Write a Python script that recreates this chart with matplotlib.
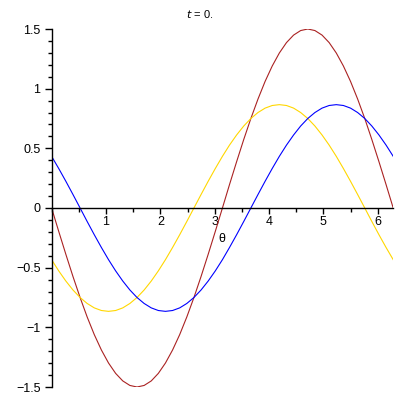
import matplotlib; matplotlib.use("Agg")
import matplotlib.pyplot as plt
from matplotlib.ticker import MultipleLocator

theta = [0, 0.131, 0.262, 0.393, 0.524, 0.654, 0.785, 0.916, 1.047, 1.178, 1.309, 1.440,
         1.571, 1.702, 1.833, 1.963, 2.094, 2.225, 2.356, 2.487, 2.618, 2.749, 2.880, 3.011,
         3.142, 3.272, 3.403, 3.534, 3.665, 3.796, 3.927, 4.058, 4.189, 4.320, 4.451, 4.581,
         4.712, 4.843, 4.974, 5.105, 5.236, 5.367, 5.498, 5.629, 5.760, 5.890, 6.021, 6.152, 6.283]

red = [0, -0.196, -0.388, -0.574, -0.75, -0.913, -1.061, -1.190, -1.299, -1.386, -1.449, -1.487,
       -1.5, -1.487, -1.449, -1.386, -1.299, -1.190, -1.061, -0.913, -0.75, -0.574, -0.388, -0.196,
       0, 0.196, 0.388, 0.574, 0.75, 0.913, 1.061, 1.190, 1.299, 1.386, 1.449, 1.487,
       1.5, 1.487, 1.449, 1.386, 1.299, 1.190, 1.061, 0.913, 0.75, 0.574, 0.388, 0.196, 0]

yellow = [-0.433, -0.527, -0.612, -0.687, -0.75, -0.800, -0.837, -0.859, -0.866, -0.859, -0.837, -0.800,
          -0.75, -0.687, -0.612, -0.527, -0.433, -0.331, -0.224, -0.113, 0, 0.113, 0.224, 0.331,
          0.433, 0.527, 0.612, 0.687, 0.75, 0.800, 0.837, 0.859, 0.866, 0.859, 0.837, 0.800,
          0.75, 0.687, 0.612, 0.527, 0.433, 0.331, 0.224, 0.113, 0, -0.113, -0.224, -0.331, -0.433]

blue = [0.433, 0.331, 0.224, 0.113, 0, -0.113, -0.224, -0.331, -0.433, -0.527, -0.612, -0.687,
        -0.75, -0.800, -0.837, -0.859, -0.866, -0.859, -0.837, -0.800, -0.75, -0.687, -0.612, -0.527,
        -0.433, -0.331, -0.224, -0.113, 0, 0.113, 0.224, 0.331, 0.433, 0.527, 0.612, 0.687,
        0.75, 0.800, 0.837, 0.859, 0.866, 0.859, 0.837, 0.800, 0.75, 0.687, 0.612, 0.527, 0.433]

xticks = [1, 2, 3, 4, 5, 6]
yticks = [-1.5, -1, -0.5, 0, 0.5, 1, 1.5]
ytick_labels = ["\u22121.5", "\u22121", "\u22120.5", "0", "0.5", "1", "1.5"]

plt.rcParams["font.family"] = ["Liberation Sans", "DejaVu Sans"]
fig = plt.figure(figsize=(4, 4), dpi=100)
ax = fig.add_axes([0.129, 0.0325, 0.854, 0.895])

ax.plot(theta, red, color="#aa2222", lw=0.8)
ax.plot(theta, yellow, color="#ffd700", lw=0.8)
ax.plot(theta, blue, color="#0000ff", lw=0.8)

ax.set_xlim(0, 6.283)
ax.set_ylim(-1.5, 1.5)
ax.spines["top"].set_visible(False)
ax.spines["right"].set_visible(False)
ax.spines["left"].set_position(("data", 0))
ax.spines["bottom"].set_position(("data", 0))
for s in ("left", "bottom"):
    ax.spines[s].set_linewidth(1.0)

ax.set_xticks(xticks)
ax.set_xticklabels([str(v) for v in xticks])
ax.xaxis.set_minor_locator(MultipleLocator(0.5))
ax.set_yticks(yticks)
ax.set_yticklabels(ytick_labels)
ax.yaxis.set_minor_locator(MultipleLocator(0.1))
ax.tick_params(axis="both", which="major", direction="out", width=1.0, labelsize=9, pad=2)
ax.tick_params(axis="x", which="major", length=4)
ax.tick_params(axis="y", which="major", length=5, pad=3)
ax.tick_params(axis="both", which="minor", direction="out", width=1.0, length=3)

ax.text(3.13, -0.26, "\u03b8", ha="center", va="center", fontsize=9)
fig.text(0.5, 0.965, "$t$ = 0.", ha="center", va="center", fontsize=8)

plt.savefig("out.png", dpi=100)
